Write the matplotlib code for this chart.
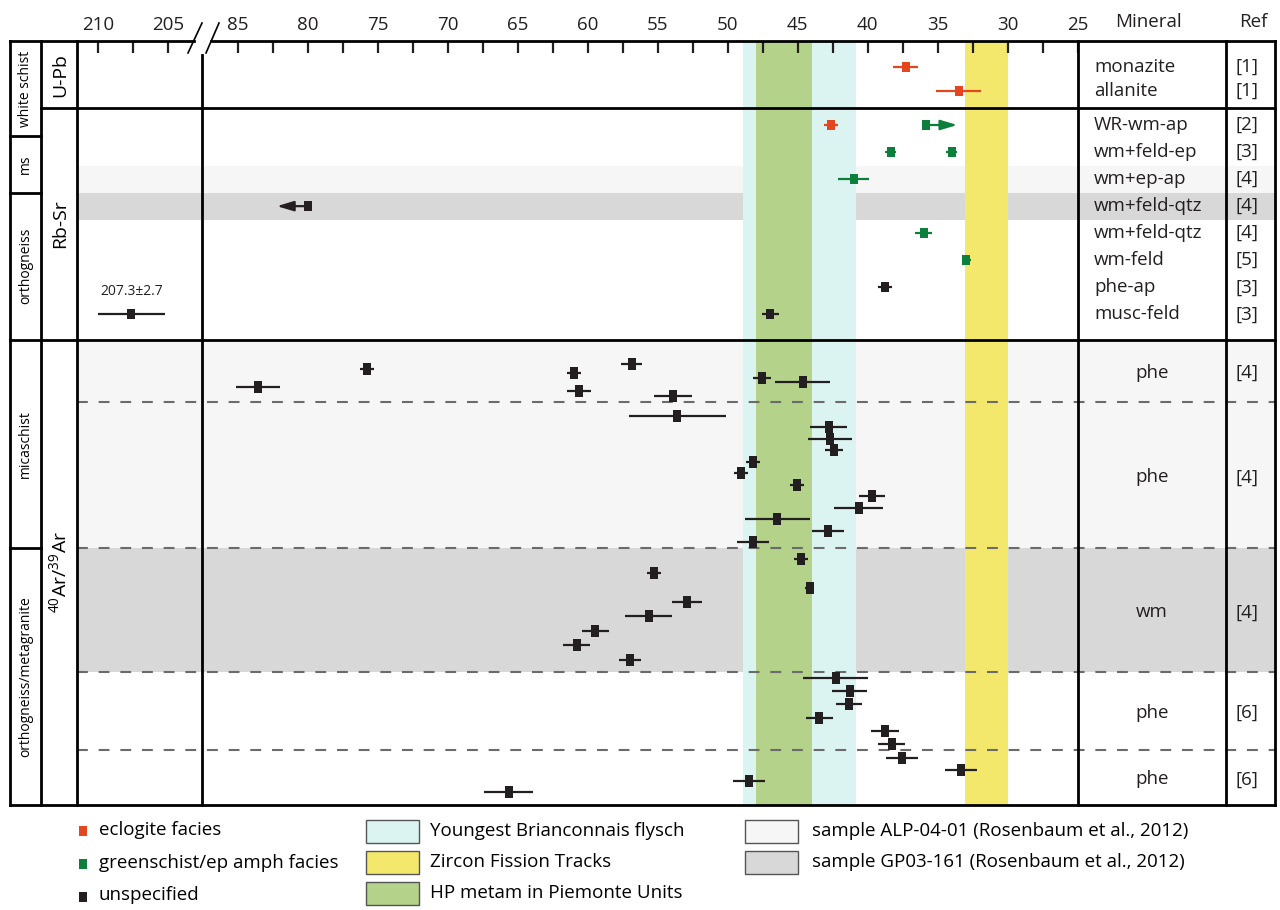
import matplotlib
matplotlib.use('Agg')
import matplotlib.pyplot as plt
from matplotlib.patches import Rectangle
import numpy as np

plt.rcParams['font.family'] = ['Open Sans', 'DejaVu Sans']
plt.rcParams['mathtext.fontset'] = 'custom'
plt.rcParams['mathtext.rm'] = 'Open Sans'

# ---------------- data ----------------
# U-Pb + Rb-Sr rows, top to bottom
minerals = ['monazite', 'allanite', 'WR-wm-ap', 'wm+feld-ep', 'wm+ep-ap',
            'wm+feld-qtz', 'wm+feld-qtz', 'wm-feld', 'phe-ap', 'musc-feld']
refs = ['[1]', '[1]', '[2]', '[3]', '[4]', '[4]', '[4]', '[5]', '[3]', '[3]']

# single ages: row index, age (Ma), error, facies
pt_row = [0, 1, 2, 2, 3, 3, 4, 5, 6, 7, 8, 9, 9]
pt_age = [37.3, 33.5, 42.65, 35.85, 38.35, 34.0, 41.0, 80.0, 36.0, 32.95, 38.8, 46.95, 207.6]
pt_err = [0.9, 1.6, 0.5, 0.0, 0.4, 0.4, 1.1, 0.0, 0.6, 0.35, 0.5, 0.6, 2.4]
pt_fac = ['ecl', 'ecl', 'ecl', 'gs', 'gs', 'gs', 'gs', 'un', 'gs', 'gs', 'un', 'un', 'un']

# open ended ages (arrows)
arr_row = [2, 5]
arr_from = [35.85, 80.0]
arr_to = [33.6, 82.2]
arr_fac = ['gs', 'un']

# 40Ar/39Ar groups, points top to bottom
ar_minerals = ['phe', 'phe', 'wm', 'phe', 'phe']
ar_refs = ['[4]', '[4]', '[4]', '[6]', '[6]']
ar_age = [
    [56.85, 75.8, 61.0, 47.55, 44.65, 83.55, 60.65, 53.9],
    [53.6, 42.8, 42.7, 42.4, 48.2, 49.05, 45.05, 39.7, 40.65, 46.45, 42.85, 48.2],
    [44.8, 55.3, 44.15, 52.9, 55.65, 59.45, 60.8, 57.0],
    [42.3, 41.3, 41.35, 43.45, 38.8, 38.3],
    [37.55, 33.35, 48.5, 65.65],
]
ar_err = [
    [0.75, 0.5, 0.5, 0.65, 1.95, 1.55, 0.85, 1.35],
    [3.45, 1.35, 1.55, 0.65, 0.5, 0.5, 0.5, 0.95, 1.75, 2.3, 1.15, 1.15],
    [0.5, 0.5, 0.3, 1.05, 1.7, 0.95, 0.95, 0.8],
    [2.3, 1.25, 0.95, 0.95, 1.0, 0.95],
    [1.15, 1.15, 1.15, 1.75],
]

# reference time windows (Ma)
flysch = (48.9, 40.85)
hp_metam = (47.95, 43.95)
zircon_ft = (33.05, 30.0)

# ---------------- style / layout ----------------
RED, GREEN, BLACK = '#e5461d', '#0d7f3c', '#231f20'
fac_col = {'ecl': RED, 'gs': GREEN, 'un': BLACK}
CYAN, OLIVE, YELLOW = '#dbf4f1', '#b4d28a', '#f4e86c'
LGREY, DGREY = '#f6f6f6', '#d8d8d8'
DASH = '#6b6b6b'
FS = 13.5


def brk(a):
    # broken age axis: 202.5 Ma joins 87.5 Ma
    a = np.asarray(a, dtype=float)
    return np.where(a > 150, a - 115, a)


W, H = 1280, 910
X0, X1, Y0, Y1 = 76.7, 1077.7, 41, 805   # plot area in pixels
XM, XR, XE = 1077.7, 1226, 1275          # mineral / ref columns
XA, XB = 10, 41                          # left label columns

row_y = np.concatenate([66.5 + 24 * np.arange(2), 125 + 27.05 * np.arange(8)])
ar_bounds = [340, 402.3, 548.3, 672.3, 750, 805]
ar_first = [364, 415.7, 558.7, 678, 758.3]
ar_last = [395.7, 542, 659.7, 744, 792.3]

fig = plt.figure(figsize=(12.8, 9.1), dpi=100)
lay = fig.add_axes([0, 0, 1, 1], zorder=0)
lay.set_xlim(0, W)
lay.set_ylim(H, 0)
lay.axis('off')

ax = fig.add_axes([X0 / W, 1 - Y1 / H, (X1 - X0) / W, (Y1 - Y0) / H], zorder=1)
ax.set_facecolor('none')
ax.set_xlim(float(brk(211.5)), 25)
ax.set_ylim(Y1, Y0)
for s in ax.spines.values():
    s.set_visible(False)
ax.set_yticks([])

# ticks every 2.5 Ma, labels every 5
tk = list(np.arange(210, 204, -2.5)) + list(np.arange(85, 24, -2.5))
ax.xaxis.tick_top()
ax.set_xticks(brk(tk))
ax.set_xticklabels([('%d' % t if t % 5 == 0 else '') for t in tk], fontsize=FS)
ax.tick_params(axis='x', direction='in', length=8.5, width=1.6, pad=5, colors=BLACK)

top = fig.add_axes([0, 0, 1, 1], zorder=2)
top.set_xlim(0, W)
top.set_ylim(H, 0)
top.axis('off')

# sample background rows (reach into mineral/ref columns)
rb_edge = (row_y[:-1] + row_y[1:]) / 2
lay.add_patch(Rectangle((X0, rb_edge[3]), XE - X0, rb_edge[4] - rb_edge[3], color=LGREY, lw=0))
lay.add_patch(Rectangle((X0, rb_edge[4]), XE - X0, rb_edge[5] - rb_edge[4], color=DGREY, lw=0))
lay.add_patch(Rectangle((X0, ar_bounds[0]), XE - X0, ar_bounds[2] - ar_bounds[0], color=LGREY, lw=0))
lay.add_patch(Rectangle((X0, ar_bounds[2]), XE - X0, ar_bounds[3] - ar_bounds[2], color=DGREY, lw=0))

# time windows
ax.axvspan(*flysch, color=CYAN, lw=0, zorder=0.5)
ax.axvspan(*hp_metam, color=OLIVE, lw=0, zorder=0.6)
ax.axvspan(*zircon_ft, color=YELLOW, lw=0, zorder=0.6)

# dashed separators of Ar groups
xr = (XE - X0) / (X1 - X0)
for yb in ar_bounds[1:-1]:
    ax.plot([0, xr], [yb, yb], transform=ax.get_yaxis_transform(), color=DASH,
            lw=1.5, ls=(0, (5.2, 5.2)), clip_on=False, zorder=2)

rect = [(-0.33, -0.5), (0.33, -0.5), (0.33, 0.5), (-0.33, 0.5), (-0.33, -0.5)]


def draw(ages, ys, errs, col, ms):
    ax.errorbar(brk(ages), ys, xerr=errs, fmt='none', ecolor=col, elinewidth=1.6,
                capsize=0, zorder=3)
    ax.plot(brk(ages), ys, ls='none', marker=rect, ms=ms, mfc=col, mec=col, mew=0, zorder=4)


pr = np.array(pt_row)
pa = np.array(pt_age)
pe = np.array(pt_err)
pf = np.array(pt_fac)
for f in ['ecl', 'gs', 'un']:
    m = pf == f
    draw(pa[m], row_y[pr[m]], pe[m], fac_col[f], 7.8)

for r, a0, a1, f in zip(arr_row, arr_from, arr_to, arr_fac):
    ax.annotate('', xy=(float(brk(a1)), row_y[r]), xytext=(float(brk(a0)), row_y[r]),
                arrowprops=dict(arrowstyle='-|>,head_length=1.0,head_width=0.3',
                                color=fac_col[f], lw=1.6, shrinkA=0, shrinkB=0,
                                mutation_scale=10), zorder=3)

ax.annotate('207.3\u00b12.7', xy=(float(brk(207.6)), row_y[9]), xytext=(0, 11),
            textcoords='offset points', ha='center', va='bottom', fontsize=10, color=BLACK)

for g in range(len(ar_age)):
    ys = np.linspace(ar_first[g], ar_last[g], len(ar_age[g]))
    draw(np.array(ar_age[g]), ys, ar_err[g], BLACK, 8.6)

# mineral / ref text
for i, (mn, rf) in enumerate(zip(minerals, refs)):
    lay.text(1094, row_y[i], mn, fontsize=FS, va='center', ha='left', color=BLACK)
    lay.text(1247, row_y[i], rf, fontsize=FS, va='center', ha='center', color=BLACK)
for g, (mn, rf) in enumerate(zip(ar_minerals, ar_refs)):
    yc = (ar_bounds[g] + ar_bounds[g + 1]) / 2 + 2
    lay.text((XM + XR) / 2, yc, mn, fontsize=FS, va='center', ha='center', color=BLACK)
    lay.text(1247, yc, rf, fontsize=FS, va='center', ha='center', color=BLACK)
lay.text((XM + XR) / 2 - 3, 22, 'Mineral', fontsize=FS, ha='center', va='center', color=BLACK)
lay.text(1253, 22, 'Ref', fontsize=FS, ha='center', va='center', color=BLACK)

# left label columns
upb_bot, rb_bot = 108.3, 339.5
outer = [(Y0, 136, 'white schist'), (136, 192.7, 'ms'), (192.7, rb_bot, 'orthogneiss'),
         (rb_bot, 548.3, 'micaschist'), (548.3, Y1, 'orthogneiss/metagranite')]
for ya, yb, t in outer:
    lay.text((XA + XB) / 2, (ya + yb) / 2, t, rotation=90, fontsize=10, ha='center', va='center')
inner = [(Y0, upb_bot, 'U-Pb'), (upb_bot, rb_bot, 'Rb-Sr'), (rb_bot, Y1, r'$^{40}$Ar/$^{39}$Ar')]
for ya, yb, t in inner:
    lay.text((XB + X0) / 2 + 1, (ya + yb) / 2, t, rotation=90, fontsize=14, ha='center', va='center')

# frame
k = dict(color='black', lw=2.0, solid_capstyle='projecting')
top.plot([XA, 194], [Y0, Y0], **k)
top.plot([211, XE], [Y0, Y0], **k)
for yy in [Y1, rb_bot]:
    top.plot([XA, XE], [yy, yy], **k)
top.plot([XB, XE], [upb_bot, upb_bot], **k)
for yy in [136, 192.7, 548.3]:
    top.plot([XA, XB], [yy, yy], **k)
for xx in [XA, XB, X0, XM, XR, XE]:
    top.plot([xx, xx], [Y0, Y1], **k)
top.plot([202.3, 202.3], [55, Y1], **k)
# axis break marks
top.plot([188, 202], [53, 23], color='black', lw=1.2)
top.plot([206, 219], [53, 23], color='black', lw=1.2)

# legend
LY = [831, 864, 896.5]
for y, f, t in zip(LY, ['ecl', 'gs', 'un'],
                   ['eclogite facies', 'greenschist/ep amph facies', 'unspecified']):
    lay.add_patch(Rectangle((78.5, y - 5), 8, 10, color=fac_col[f], lw=0))
    lay.text(99, y - 1, t, fontsize=FS, va='center', ha='left')
PY = [831, 862, 893.5]
for y, c, t in zip(PY, [CYAN, YELLOW, OLIVE],
                   ['Youngest Brianconnais flysch', 'Zircon Fission Tracks',
                    'HP metam in Piemonte Units']):
    lay.add_patch(Rectangle((366, y - 11.5), 53, 23, facecolor=c, edgecolor='#555555', lw=1))
    lay.text(430, y, t, fontsize=FS, va='center', ha='left')
for y, c, t in zip(PY[:2], [LGREY, DGREY],
                   ['sample ALP-04-01 (Rosenbaum et al., 2012)',
                    'sample GP03-161 (Rosenbaum et al., 2012)']):
    lay.add_patch(Rectangle((745, y - 11.5), 53, 23, facecolor=c, edgecolor='#555555', lw=1))
    lay.text(812, y, t, fontsize=FS, va='center', ha='left')

fig.savefig('out.png', dpi=100)
